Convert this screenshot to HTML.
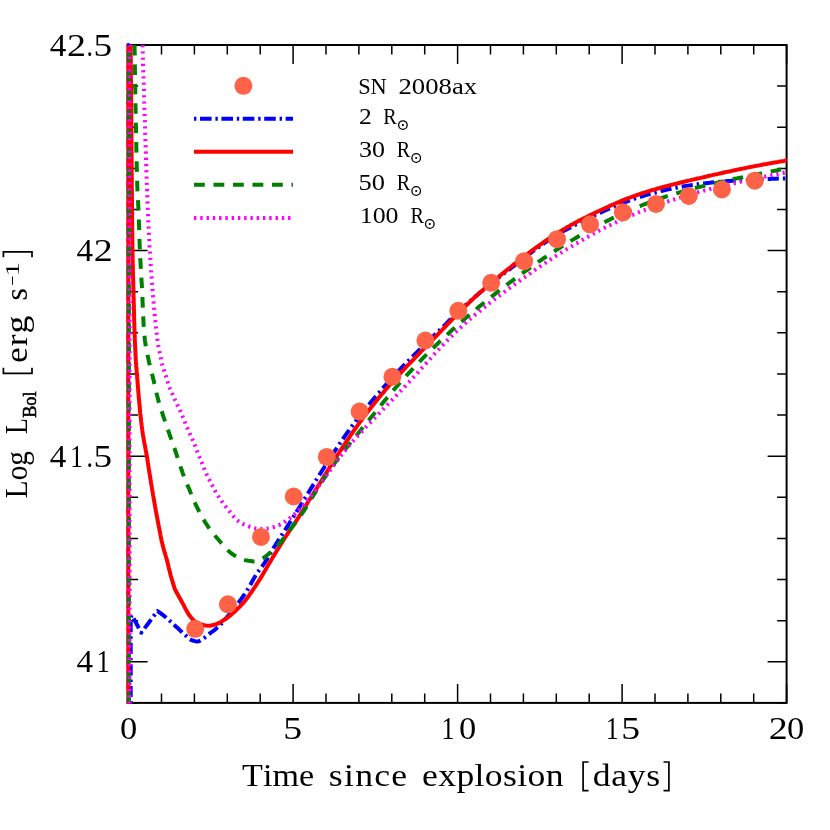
<!DOCTYPE html>
<html><head><meta charset="utf-8"><title>SN 2008ax light curve</title>
<style>html,body{margin:0;padding:0;background:#fff}svg{display:block;will-change:transform}text{font-family:"Liberation Serif",serif;fill:#000;font-kerning:none;font-variant-ligatures:none;white-space:pre}</style></head><body>
<svg width="830" height="830" viewBox="0 0 830 830">
<rect width="830" height="830" fill="#fff"/>
<defs><clipPath id="c"><rect x="125.6" y="44.8" width="661.3" height="658.9"/></clipPath></defs>
<g stroke="#000" fill="none" stroke-linecap="butt">
<rect x="128.6" y="45.0" width="658.0" height="657.9" stroke-width="2"/>
<path d="M128.6 702.9 v-19.0 M128.6 45.0 v19.0 M161.5 702.9 v-9.5 M161.5 45.0 v9.5 M194.4 702.9 v-9.5 M194.4 45.0 v9.5 M227.3 702.9 v-9.5 M227.3 45.0 v9.5 M260.2 702.9 v-9.5 M260.2 45.0 v9.5 M293.1 702.9 v-19.0 M293.1 45.0 v19.0 M326.0 702.9 v-9.5 M326.0 45.0 v9.5 M358.9 702.9 v-9.5 M358.9 45.0 v9.5 M391.8 702.9 v-9.5 M391.8 45.0 v9.5 M424.7 702.9 v-9.5 M424.7 45.0 v9.5 M457.6 702.9 v-19.0 M457.6 45.0 v19.0 M490.5 702.9 v-9.5 M490.5 45.0 v9.5 M523.4 702.9 v-9.5 M523.4 45.0 v9.5 M556.3 702.9 v-9.5 M556.3 45.0 v9.5 M589.2 702.9 v-9.5 M589.2 45.0 v9.5 M622.1 702.9 v-19.0 M622.1 45.0 v19.0 M655.0 702.9 v-9.5 M655.0 45.0 v9.5 M687.9 702.9 v-9.5 M687.9 45.0 v9.5 M720.8 702.9 v-9.5 M720.8 45.0 v9.5 M753.7 702.9 v-9.5 M753.7 45.0 v9.5 M786.6 702.9 v-19.0 M786.6 45.0 v19.0 M128.6 702.9 h9.5 M786.6 702.9 h-9.5 M128.6 661.8 h19.0 M786.6 661.8 h-19.0 M128.6 620.7 h9.5 M786.6 620.7 h-9.5 M128.6 579.5 h9.5 M786.6 579.5 h-9.5 M128.6 538.4 h9.5 M786.6 538.4 h-9.5 M128.6 497.3 h9.5 M786.6 497.3 h-9.5 M128.6 456.2 h19.0 M786.6 456.2 h-19.0 M128.6 415.1 h9.5 M786.6 415.1 h-9.5 M128.6 374.0 h9.5 M786.6 374.0 h-9.5 M128.6 332.8 h9.5 M786.6 332.8 h-9.5 M128.6 291.7 h9.5 M786.6 291.7 h-9.5 M128.6 250.6 h19.0 M786.6 250.6 h-19.0 M128.6 209.5 h9.5 M786.6 209.5 h-9.5 M128.6 168.4 h9.5 M786.6 168.4 h-9.5 M128.6 127.2 h9.5 M786.6 127.2 h-9.5 M128.6 86.1 h9.5 M786.6 86.1 h-9.5 M128.6 45.0 h19.0 M786.6 45.0 h-19.0" stroke-width="1.5"/>
</g>
<g fill="none" stroke-width="4" stroke-linejoin="round" clip-path="url(#c)">
<path d="M128.3 710 V40" stroke="#0000ff" stroke-width="3.4" stroke-dasharray="11.2 4 2.4 4"/>
<path d="M130.7 710.0 L130.7 617.0 L131.8 614.9 L141.3 632.7 L157.5 611.0 L159.1 612.2 L160.8 613.4 L162.4 614.6 L163.9 615.8 L165.5 617.0 L167.0 618.3 L168.6 619.6 L170.0 621.0 L171.5 622.3 L173.0 623.7 L174.5 625.1 L175.9 626.5 L177.4 627.8 L178.9 629.2 L180.3 630.6 L181.8 632.0 L183.2 633.3 L184.7 634.7 L186.2 636.0 L187.7 637.4 L189.3 638.8 L190.9 639.8 L192.8 640.5 L194.8 641.1 L196.8 641.5 L198.7 641.3 L200.5 640.5 L202.3 639.4 L204.0 638.3 L205.5 637.0 L207.1 635.7 L208.6 634.4 L210.2 633.2 L211.8 632.0 L213.4 630.8 L215.0 629.6 L216.6 628.3 L218.1 627.0 L219.5 625.6 L220.9 624.1 L222.2 622.7 L223.6 621.1 L224.9 619.6 L226.2 618.1 L227.5 616.5 L228.8 615.0 L230.0 613.5 L231.3 611.9 L232.5 610.3 L233.8 608.7 L235.0 607.2 L236.2 605.6 L237.5 604.0 L238.7 602.4 L239.9 600.8 L241.1 599.1 L242.3 597.5 L243.4 595.9 L244.6 594.3 L245.7 592.6 L246.8 590.9 L247.8 589.2 L248.8 587.5 L249.8 585.7 L250.8 584.0 L251.8 582.2 L252.7 580.4 L253.7 578.7 L254.8 577.0 L255.8 575.3 L256.9 573.6 L258.0 571.9 L259.2 570.3 L260.4 568.7 L261.6 567.0 L262.8 565.4 L263.9 563.8 L265.1 562.1 L266.1 560.5 L267.2 558.8 L268.2 557.0 L269.2 555.3 L270.2 553.6 L271.3 551.8 L272.3 550.1 L273.3 548.4 L274.4 546.7 L275.5 545.0 L276.5 543.3 L277.6 541.6 L278.7 539.9 L279.8 538.2 L280.9 536.5 L281.9 534.8 L283.0 533.2 L284.1 531.5 L285.2 529.8 L286.3 528.1 L287.4 526.4 L288.4 524.7 L289.5 523.0 L290.6 521.3 L291.7 519.6 L292.7 517.9 L293.8 516.2 L294.9 514.4 L296.0 512.7 L297.0 511.0 L298.1 509.3 L299.2 507.6 L300.2 505.9 L301.3 504.1 L302.4 502.4 L303.4 500.7 L304.5 499.0 L305.6 497.2 L306.6 495.5 L307.7 493.8 L308.8 492.1 L309.8 490.3 L310.9 488.6 L312.0 486.9 L313.0 485.2 L314.1 483.5 L315.1 481.8 L316.2 480.1 L317.2 478.4 L318.3 476.8 L319.3 475.1 L320.4 473.5 L321.4 471.8 L322.4 470.2 L323.5 468.6 L324.5 466.9 L325.6 465.3 L326.6 463.6 L327.7 462.0 L328.7 460.4 L329.8 458.7 L330.9 457.1 L331.9 455.4 L333.0 453.8 L334.1 452.1 L335.2 450.4 L336.3 448.8 L337.4 447.1 L338.5 445.4 L339.7 443.7 L340.8 442.1 L342.0 440.4 L343.1 438.7 L344.3 437.0 L345.4 435.4 L346.6 433.7 L347.8 432.0 L349.0 430.4 L350.1 428.7 L351.3 427.1 L352.5 425.4 L353.8 423.8 L355.0 422.2 L356.2 420.5 L357.5 418.9 L358.7 417.3 L360.0 415.7 L361.3 414.0 L362.5 412.4 L363.8 410.8 L365.1 409.2 L366.4 407.6 L367.7 406.0 L369.0 404.5 L370.3 402.9 L371.6 401.3 L372.9 399.8 L374.2 398.2 L375.5 396.7 L376.8 395.2 L378.1 393.7 L379.4 392.2 L380.7 390.6 L382.0 389.1 L383.3 387.6 L384.6 386.2 L385.9 384.7 L387.2 383.2 L388.5 381.7 L389.9 380.3 L391.2 378.8 L392.5 377.3 L393.8 375.9 L395.2 374.4 L396.5 373.0 L397.8 371.6 L399.2 370.1 L400.6 368.7 L401.9 367.3 L403.3 365.9 L404.6 364.5 L406.0 363.1 L407.4 361.7 L408.8 360.3 L410.2 358.9 L411.6 357.5 L413.0 356.1 L414.4 354.7 L415.8 353.3 L417.3 351.8 L418.7 350.4 L420.2 349.0 L421.6 347.6 L423.1 346.1 L424.6 344.7 L426.1 343.2 L427.6 341.8 L429.1 340.3 L430.6 338.9 L432.0 337.5 L433.5 336.0 L434.9 334.6 L436.4 333.2 L437.8 331.8 L439.3 330.4 L440.7 329.0 L442.1 327.6 L443.6 326.2 L445.0 324.8 L446.5 323.3 L447.9 321.9 L449.3 320.5 L450.8 319.1 L452.2 317.8 L453.6 316.4 L455.1 315.0 L456.5 313.6 L458.0 312.3 L459.4 310.9 L460.8 309.5 L462.3 308.2 L463.7 306.9 L465.2 305.5 L466.6 304.2 L468.1 302.9 L469.6 301.5 L471.1 300.2 L472.6 298.9 L474.1 297.6 L475.6 296.3 L477.1 295.0 L478.6 293.8 L480.1 292.5 L481.7 291.2 L483.2 289.9 L484.8 288.7 L486.3 287.4 L487.9 286.2 L489.4 284.9 L491.0 283.7 L492.6 282.4 L494.1 281.2 L495.7 279.9 L497.3 278.7 L498.9 277.5 L500.5 276.2 L502.1 275.0 L503.7 273.8 L505.3 272.5 L506.9 271.3 L508.5 270.0 L510.2 268.8 L511.8 267.5 L513.4 266.3 L515.1 265.0 L516.7 263.8 L518.3 262.5 L519.9 261.3 L521.5 260.0 L523.1 258.8 L524.7 257.5 L526.3 256.3 L527.9 255.1 L529.5 253.9 L531.1 252.6 L532.7 251.4 L534.3 250.3 L535.9 249.1 L537.5 247.9 L539.1 246.8 L540.7 245.6 L542.3 244.5 L543.9 243.3 L545.5 242.2 L547.2 241.1 L548.8 240.1 L550.5 239.0 L552.1 237.9 L553.8 236.9 L555.5 235.9 L557.2 234.9 L558.8 233.9 L560.6 232.9 L562.3 231.9 L564.0 230.9 L565.7 229.9 L567.5 229.0 L569.3 228.0 L571.1 227.1 L572.9 226.1 L574.7 225.2 L576.5 224.3 L578.3 223.3 L580.1 222.4 L581.9 221.5 L583.7 220.6 L585.6 219.7 L587.4 218.8 L589.2 217.9 L591.1 217.0 L592.9 216.1 L594.7 215.2 L596.6 214.4 L598.4 213.5 L600.3 212.6 L602.1 211.8 L603.9 211.0 L605.8 210.1 L607.6 209.3 L609.5 208.5 L611.3 207.7 L613.1 206.9 L615.0 206.2 L616.8 205.4 L618.6 204.7 L620.5 203.9 L622.3 203.2 L624.1 202.5 L626.0 201.8 L627.8 201.1 L629.7 200.4 L631.6 199.7 L633.5 199.1 L635.3 198.4 L637.2 197.8 L639.2 197.2 L641.1 196.6 L643.0 196.0 L644.9 195.4 L646.8 194.8 L648.8 194.3 L650.7 193.7 L652.6 193.2 L654.6 192.7 L656.5 192.2 L658.5 191.7 L660.4 191.2 L662.4 190.7 L664.4 190.3 L666.3 189.8 L668.3 189.4 L670.2 189.0 L672.2 188.6 L674.2 188.2 L676.1 187.8 L678.1 187.4 L680.1 187.0 L682.1 186.7 L684.0 186.3 L686.0 186.0 L688.0 185.7 L690.0 185.4 L692.0 185.1 L693.9 184.8 L695.9 184.5 L697.9 184.2 L699.9 184.0 L701.9 183.7 L703.9 183.5 L705.9 183.2 L707.9 183.0 L709.9 182.8 L711.9 182.5 L713.9 182.3 L715.9 182.1 L717.9 182.0 L719.9 181.8 L721.9 181.6 L723.9 181.4 L725.9 181.3 L727.9 181.1 L729.9 181.0 L731.9 180.8 L733.9 180.7 L735.9 180.5 L737.9 180.4 L739.9 180.3 L741.9 180.2 L743.9 180.1 L745.9 180.0 L747.9 179.8 L749.9 179.7 L751.9 179.6 L753.9 179.6 L755.9 179.5 L757.9 179.4 L759.9 179.3 L761.9 179.2 L763.9 179.1 L765.9 179.1 L767.9 179.0 L769.9 178.9 L772.0 178.8 L774.0 178.8 L776.0 178.7 L778.0 178.6 L780.0 178.6 L782.0 178.5 L784.0 178.4 L786.0 178.4 L788.0 178.3 L790.0 178.2" stroke="#0000ff" stroke-dasharray="11.2 4 2.4 4" stroke-dashoffset="8.7"/>
<path d="M128.3 710 V40" stroke="#ff0000"/>
<path d="M130.6 40.0 L130.6 42.0 L130.6 44.0 L130.7 46.0 L130.7 48.0 L130.7 50.1 L130.7 52.1 L130.7 54.1 L130.7 56.1 L130.8 58.1 L130.8 60.1 L130.8 62.1 L130.8 64.1 L130.8 66.1 L130.9 68.2 L130.9 70.2 L130.9 72.2 L130.9 74.2 L130.9 76.2 L130.9 78.2 L131.0 80.2 L131.0 82.2 L131.0 84.2 L131.0 86.3 L131.0 88.3 L131.0 90.3 L131.1 92.3 L131.1 94.3 L131.1 96.3 L131.1 98.3 L131.1 100.3 L131.1 102.3 L131.2 104.4 L131.2 106.4 L131.2 108.4 L131.2 110.4 L131.2 112.4 L131.3 114.4 L131.3 116.4 L131.3 118.4 L131.3 120.4 L131.3 122.5 L131.3 124.5 L131.4 126.5 L131.4 128.5 L131.4 130.5 L131.4 132.5 L131.4 134.5 L131.4 136.5 L131.4 138.5 L131.5 140.6 L131.5 142.6 L131.5 144.6 L131.5 146.6 L131.5 148.6 L131.5 150.6 L131.6 152.6 L131.6 154.6 L131.6 156.6 L131.6 158.7 L131.6 160.7 L131.6 162.7 L131.7 164.7 L131.7 166.7 L131.7 168.7 L131.7 170.7 L131.7 172.7 L131.7 174.7 L131.7 176.8 L131.8 178.8 L131.8 180.8 L131.8 182.8 L131.8 184.8 L131.8 186.8 L131.8 188.8 L131.9 190.8 L131.9 192.8 L131.9 194.8 L131.9 196.9 L131.9 198.9 L132.0 200.9 L132.0 202.9 L132.0 204.9 L132.0 206.9 L132.0 208.9 L132.1 210.9 L132.1 212.9 L132.1 215.0 L132.1 217.0 L132.1 219.0 L132.1 221.0 L132.2 223.0 L132.2 225.0 L132.2 227.0 L132.2 229.0 L132.2 231.0 L132.3 233.1 L132.3 235.1 L132.3 237.1 L132.3 239.1 L132.4 241.1 L132.4 243.1 L132.4 245.1 L132.4 247.1 L132.5 249.1 L132.5 251.2 L132.5 253.2 L132.6 255.2 L132.6 257.2 L132.6 259.2 L132.7 261.2 L132.7 263.2 L132.8 265.2 L132.8 267.2 L132.9 269.3 L132.9 271.3 L133.0 273.3 L133.0 275.3 L133.1 277.3 L133.1 279.3 L133.2 281.3 L133.3 283.3 L133.3 285.3 L133.4 287.3 L133.4 289.4 L133.5 291.4 L133.5 293.4 L133.6 295.4 L133.6 297.4 L133.7 299.4 L133.7 301.4 L133.8 303.4 L133.8 305.4 L133.9 307.5 L133.9 309.5 L134.0 311.5 L134.0 313.5 L134.1 315.5 L134.1 317.5 L134.2 319.5 L134.2 321.5 L134.3 323.5 L134.4 325.5 L134.4 327.6 L134.5 329.6 L134.6 331.6 L134.6 333.6 L134.7 335.6 L134.8 337.6 L134.8 339.6 L134.9 341.6 L135.0 343.6 L135.1 345.6 L135.2 347.7 L135.3 349.7 L135.4 351.7 L135.5 353.7 L135.6 355.7 L135.7 357.7 L135.8 359.7 L135.9 361.7 L136.1 363.7 L136.2 365.7 L136.4 367.7 L136.6 369.7 L136.7 371.7 L136.9 373.7 L137.1 375.7 L137.2 377.7 L137.4 379.8 L137.5 381.8 L137.7 383.8 L137.8 385.8 L138.0 387.8 L138.2 389.8 L138.3 391.8 L138.5 393.8 L138.7 395.8 L138.8 397.8 L139.0 399.8 L139.2 401.8 L139.4 403.8 L139.6 405.8 L139.8 407.8 L139.9 409.8 L140.1 411.8 L140.3 413.8 L140.6 415.8 L140.8 417.8 L141.0 419.8 L141.2 421.8 L141.5 423.8 L141.7 425.8 L142.0 427.8 L142.2 429.8 L142.5 431.8 L142.8 433.8 L143.1 435.8 L143.5 437.7 L143.8 439.7 L144.1 441.7 L144.5 443.7 L144.9 445.7 L145.3 447.6 L145.6 449.6 L146.0 451.6 L146.4 453.6 L146.7 455.5 L147.1 457.5 L147.4 459.5 L147.7 461.5 L148.0 463.5 L148.3 465.5 L148.6 467.5 L148.9 469.4 L149.2 471.4 L149.5 473.4 L149.9 475.4 L150.2 477.4 L150.5 479.4 L150.8 481.4 L151.1 483.3 L151.5 485.3 L151.8 487.3 L152.1 489.3 L152.5 491.3 L152.8 493.3 L153.1 495.3 L153.5 497.2 L153.8 499.2 L154.2 501.2 L154.5 503.2 L154.9 505.2 L155.2 507.1 L155.6 509.1 L155.9 511.1 L156.3 513.1 L156.7 515.1 L157.0 517.0 L157.4 519.0 L157.8 521.0 L158.1 523.0 L158.5 524.9 L158.9 526.9 L159.3 528.9 L159.7 530.9 L160.1 532.8 L160.4 534.8 L160.8 536.8 L161.2 538.8 L161.6 540.7 L162.1 542.7 L162.5 544.6 L163.0 546.6 L163.6 548.5 L164.1 550.5 L164.7 552.4 L165.3 554.3 L165.8 556.2 L166.4 558.2 L166.9 560.1 L167.4 562.1 L167.9 564.0 L168.4 566.0 L168.8 567.9 L169.3 569.9 L169.8 571.8 L170.3 573.8 L170.8 575.7 L171.4 577.7 L171.9 579.6 L172.5 581.5 L173.1 583.4 L173.7 585.4 L174.3 587.3 L174.9 589.2 L175.9 591.0 L176.8 592.7 L177.8 594.5 L178.7 596.2 L179.7 598.0 L180.7 599.8 L181.6 601.5 L182.6 603.3 L183.6 605.0 L184.5 606.8 L185.4 608.6 L186.4 610.4 L187.3 612.2 L188.4 613.9 L189.5 615.6 L190.7 617.1 L192.0 618.7 L193.4 620.1 L195.0 621.3 L196.6 622.4 L198.4 623.4 L200.3 624.3 L202.2 624.8 L204.1 625.3 L206.1 625.6 L208.1 625.8 L210.1 625.7 L212.1 625.3 L214.1 624.8 L216.0 624.2 L217.9 623.5 L219.7 622.6 L221.4 621.6 L223.1 620.5 L224.8 619.4 L226.5 618.3 L228.1 617.1 L229.7 615.9 L231.3 614.6 L232.8 613.3 L234.3 612.0 L235.7 610.6 L237.2 609.2 L238.6 607.8 L240.0 606.4 L241.4 604.9 L242.8 603.4 L244.1 601.9 L245.3 600.4 L246.6 598.8 L247.8 597.2 L249.0 595.6 L250.1 593.9 L251.3 592.3 L252.4 590.6 L253.5 589.0 L254.6 587.3 L255.8 585.6 L256.9 583.9 L257.9 582.3 L259.0 580.6 L260.1 578.9 L261.1 577.2 L262.2 575.4 L263.2 573.7 L264.2 572.0 L265.2 570.3 L266.2 568.5 L267.2 566.8 L268.2 565.0 L269.2 563.3 L270.3 561.6 L271.3 559.9 L272.3 558.1 L273.4 556.4 L274.4 554.7 L275.4 553.0 L276.5 551.3 L277.5 549.6 L278.6 547.9 L279.7 546.2 L280.7 544.5 L281.8 542.8 L282.9 541.1 L283.9 539.4 L285.0 537.7 L286.1 536.0 L287.2 534.3 L288.3 532.7 L289.4 531.0 L290.5 529.3 L291.7 527.7 L292.9 526.0 L294.1 524.3 L295.2 522.6 L296.3 520.8 L297.4 519.1 L298.5 517.4 L299.6 515.7 L300.6 514.0 L301.6 512.3 L302.7 510.7 L303.7 509.0 L304.7 507.4 L305.7 505.7 L306.7 504.1 L307.7 502.5 L308.7 500.8 L309.8 499.2 L310.9 497.5 L311.9 495.8 L313.0 494.1 L314.1 492.4 L315.2 490.6 L316.3 488.8 L317.4 487.1 L318.5 485.3 L319.7 483.5 L320.8 481.7 L321.9 479.9 L323.0 478.2 L324.1 476.4 L325.2 474.6 L326.3 472.9 L327.4 471.2 L328.4 469.5 L329.5 467.8 L330.5 466.1 L331.5 464.5 L332.6 462.9 L333.6 461.3 L334.6 459.7 L335.6 458.1 L336.6 456.5 L337.6 454.9 L338.7 453.3 L339.7 451.7 L340.8 450.1 L341.8 448.5 L342.9 446.8 L344.0 445.2 L345.1 443.5 L346.2 441.9 L347.3 440.2 L348.5 438.5 L349.6 436.9 L350.7 435.2 L351.9 433.5 L353.0 431.9 L354.2 430.2 L355.4 428.5 L356.6 426.9 L357.8 425.2 L358.9 423.6 L360.2 421.9 L361.4 420.2 L362.6 418.6 L363.8 416.9 L365.1 415.2 L366.4 413.6 L367.6 411.9 L368.9 410.3 L370.2 408.6 L371.4 407.0 L372.7 405.4 L374.0 403.8 L375.2 402.2 L376.5 400.7 L377.8 399.1 L379.0 397.6 L380.3 396.0 L381.6 394.5 L382.9 393.0 L384.1 391.5 L385.4 390.0 L386.7 388.5 L388.0 387.0 L389.3 385.5 L390.6 384.1 L391.9 382.6 L393.2 381.2 L394.5 379.7 L395.8 378.3 L397.1 376.8 L398.4 375.4 L399.7 374.0 L401.0 372.5 L402.4 371.1 L403.7 369.6 L405.1 368.2 L406.5 366.7 L407.9 365.2 L409.3 363.8 L410.7 362.3 L412.1 360.8 L413.6 359.3 L415.0 357.8 L416.5 356.3 L417.9 354.8 L419.3 353.4 L420.7 351.9 L422.2 350.4 L423.6 349.0 L425.0 347.5 L426.4 346.1 L427.8 344.6 L429.2 343.2 L430.6 341.8 L432.0 340.3 L433.4 338.9 L434.8 337.4 L436.2 336.0 L437.6 334.6 L439.0 333.1 L440.4 331.7 L441.7 330.3 L443.1 328.9 L444.5 327.5 L445.8 326.1 L447.2 324.6 L448.6 323.2 L449.9 321.8 L451.3 320.3 L452.7 318.9 L454.1 317.5 L455.5 316.0 L456.9 314.6 L458.3 313.2 L459.8 311.7 L461.2 310.3 L462.6 308.9 L464.0 307.5 L465.5 306.1 L466.9 304.7 L468.4 303.3 L469.8 301.9 L471.3 300.5 L472.7 299.2 L474.2 297.8 L475.6 296.5 L477.1 295.2 L478.6 293.8 L480.1 292.5 L481.6 291.2 L483.1 289.9 L484.6 288.6 L486.1 287.3 L487.6 286.0 L489.1 284.7 L490.6 283.4 L492.2 282.1 L493.7 280.8 L495.3 279.6 L496.8 278.3 L498.4 277.0 L499.9 275.7 L501.5 274.4 L503.1 273.2 L504.7 271.9 L506.3 270.6 L507.9 269.3 L509.5 268.0 L511.1 266.7 L512.7 265.4 L514.3 264.1 L515.9 262.9 L517.5 261.6 L519.1 260.4 L520.7 259.1 L522.3 257.9 L523.9 256.7 L525.5 255.5 L527.1 254.3 L528.7 253.1 L530.3 251.9 L531.9 250.7 L533.4 249.5 L535.0 248.4 L536.6 247.2 L538.2 246.1 L539.8 244.9 L541.4 243.8 L543.0 242.7 L544.7 241.5 L546.3 240.4 L547.9 239.3 L549.6 238.2 L551.3 237.1 L552.9 236.0 L554.6 234.9 L556.3 233.8 L558.0 232.8 L559.7 231.7 L561.4 230.7 L563.1 229.6 L564.8 228.6 L566.5 227.6 L568.3 226.6 L570.0 225.6 L571.8 224.6 L573.6 223.7 L575.3 222.7 L577.1 221.8 L578.9 220.8 L580.7 219.9 L582.5 219.0 L584.3 218.1 L586.1 217.2 L587.9 216.3 L589.7 215.4 L591.6 214.5 L593.4 213.6 L595.2 212.7 L597.0 211.9 L598.9 211.0 L600.7 210.2 L602.5 209.3 L604.4 208.5 L606.2 207.6 L608.1 206.8 L609.9 205.9 L611.7 205.1 L613.5 204.3 L615.3 203.5 L617.2 202.7 L619.0 202.0 L620.8 201.2 L622.6 200.4 L624.4 199.7 L626.3 199.0 L628.2 198.2 L630.0 197.5 L631.9 196.8 L633.8 196.1 L635.7 195.5 L637.6 194.8 L639.5 194.1 L641.4 193.5 L643.3 192.9 L645.2 192.3 L647.1 191.7 L649.0 191.1 L650.9 190.5 L652.8 189.9 L654.8 189.4 L656.7 188.8 L658.6 188.3 L660.6 187.7 L662.5 187.2 L664.4 186.7 L666.4 186.1 L668.3 185.6 L670.3 185.1 L672.3 184.6 L674.2 184.1 L676.2 183.7 L678.1 183.2 L680.1 182.7 L682.0 182.2 L684.0 181.7 L685.9 181.3 L687.9 180.8 L689.8 180.4 L691.8 179.9 L693.7 179.4 L695.7 179.0 L697.6 178.5 L699.6 178.1 L701.5 177.6 L703.5 177.2 L705.4 176.7 L707.4 176.3 L709.3 175.8 L711.3 175.4 L713.2 174.9 L715.2 174.5 L717.1 174.1 L719.1 173.6 L721.1 173.2 L723.0 172.8 L725.0 172.3 L726.9 171.9 L728.9 171.5 L730.9 171.1 L732.8 170.6 L734.8 170.2 L736.7 169.8 L738.7 169.4 L740.7 169.0 L742.6 168.6 L744.6 168.2 L746.6 167.8 L748.5 167.4 L750.5 167.0 L752.5 166.6 L754.5 166.2 L756.4 165.8 L758.4 165.5 L760.4 165.1 L762.3 164.7 L764.3 164.3 L766.3 164.0 L768.3 163.6 L770.2 163.3 L772.2 162.9 L774.2 162.6 L776.2 162.2 L778.1 161.9 L780.1 161.5 L782.1 161.2 L784.1 160.9 L786.0 160.5 L788.0 160.2 L790.0 159.9" stroke="#ff0000"/>
<path d="M128.9 710 V40" stroke="#008000" stroke-dasharray="10.6 8.8" stroke-dashoffset="11.8"/>
<path d="M134.5 40.0 L134.5 42.0 L134.6 44.0 L134.6 46.0 L134.6 48.0 L134.6 50.0 L134.7 52.0 L134.7 54.0 L134.7 56.0 L134.7 58.0 L134.8 60.0 L134.8 62.0 L134.8 64.0 L134.9 66.0 L134.9 68.1 L134.9 70.1 L135.0 72.1 L135.0 74.1 L135.0 76.1 L135.1 78.1 L135.1 80.1 L135.1 82.1 L135.2 84.1 L135.2 86.1 L135.2 88.1 L135.3 90.1 L135.3 92.1 L135.3 94.1 L135.4 96.1 L135.4 98.1 L135.4 100.1 L135.5 102.1 L135.5 104.1 L135.5 106.1 L135.6 108.1 L135.6 110.1 L135.7 112.1 L135.7 114.1 L135.7 116.1 L135.8 118.1 L135.8 120.1 L135.8 122.1 L135.9 124.1 L135.9 126.2 L136.0 128.2 L136.0 130.2 L136.0 132.2 L136.1 134.2 L136.1 136.2 L136.1 138.2 L136.2 140.2 L136.2 142.2 L136.3 144.2 L136.3 146.2 L136.3 148.2 L136.4 150.2 L136.4 152.2 L136.5 154.2 L136.5 156.2 L136.5 158.2 L136.6 160.2 L136.6 162.2 L136.7 164.2 L136.7 166.2 L136.8 168.2 L136.8 170.2 L136.9 172.2 L136.9 174.2 L137.0 176.2 L137.0 178.2 L137.1 180.2 L137.2 182.2 L137.2 184.2 L137.3 186.2 L137.4 188.3 L137.4 190.3 L137.5 192.3 L137.7 194.3 L137.8 196.3 L137.9 198.3 L138.0 200.3 L138.1 202.3 L138.2 204.3 L138.3 206.3 L138.4 208.3 L138.5 210.3 L138.6 212.3 L138.7 214.3 L138.7 216.3 L138.8 218.3 L138.9 220.3 L138.9 222.3 L139.0 224.3 L139.1 226.3 L139.1 228.3 L139.2 230.3 L139.3 232.3 L139.3 234.3 L139.4 236.3 L139.4 238.3 L139.5 240.3 L139.6 242.3 L139.6 244.3 L139.7 246.3 L139.8 248.3 L139.9 250.3 L140.0 252.3 L140.0 254.3 L140.1 256.3 L140.2 258.3 L140.4 260.3 L140.5 262.3 L140.6 264.3 L140.7 266.3 L140.8 268.3 L140.9 270.3 L141.0 272.3 L141.2 274.3 L141.3 276.3 L141.4 278.3 L141.5 280.3 L141.6 282.3 L141.8 284.3 L141.9 286.3 L142.0 288.3 L142.1 290.3 L142.2 292.3 L142.3 294.3 L142.4 296.3 L142.5 298.3 L142.5 300.3 L142.6 302.3 L142.7 304.3 L142.8 306.3 L142.9 308.4 L142.9 310.4 L143.0 312.4 L143.1 314.4 L143.2 316.4 L143.3 318.4 L143.4 320.4 L143.5 322.4 L143.6 324.4 L143.7 326.4 L143.8 328.4 L144.0 330.4 L144.1 332.4 L144.3 334.4 L144.5 336.4 L144.7 338.3 L144.9 340.3 L145.2 342.3 L145.5 344.3 L145.8 346.3 L146.1 348.2 L146.5 350.2 L146.9 352.2 L147.3 354.2 L147.7 356.1 L148.2 358.1 L148.6 360.0 L149.0 362.0 L149.5 363.9 L150.0 365.9 L150.4 367.8 L150.9 369.8 L151.4 371.7 L151.9 373.6 L152.4 375.6 L152.9 377.5 L153.4 379.5 L153.9 381.4 L154.3 383.4 L154.8 385.3 L155.2 387.3 L155.7 389.3 L156.1 391.2 L156.5 393.2 L157.0 395.1 L157.5 397.1 L158.0 399.0 L158.5 400.9 L159.1 402.8 L159.6 404.8 L160.2 406.7 L160.8 408.6 L161.4 410.5 L162.1 412.4 L162.7 414.3 L163.3 416.2 L163.9 418.1 L164.6 420.0 L165.2 421.9 L165.9 423.8 L166.5 425.7 L167.2 427.6 L167.9 429.5 L168.5 431.4 L169.2 433.3 L169.8 435.2 L170.5 437.1 L171.2 438.9 L171.8 440.8 L172.5 442.7 L173.1 444.6 L173.8 446.5 L174.5 448.4 L175.1 450.3 L175.8 452.2 L176.4 454.1 L177.0 456.0 L177.7 457.9 L178.3 459.8 L178.9 461.7 L179.5 463.6 L180.1 465.5 L180.7 467.4 L181.4 469.3 L182.1 471.2 L182.7 473.1 L183.4 475.0 L184.2 476.9 L184.9 478.7 L185.6 480.6 L186.4 482.4 L187.1 484.3 L187.9 486.1 L188.7 488.0 L189.5 489.8 L190.2 491.7 L191.0 493.5 L191.8 495.4 L192.5 497.3 L193.3 499.1 L194.1 500.9 L194.9 502.8 L195.7 504.6 L196.6 506.4 L197.5 508.2 L198.4 510.0 L199.3 511.8 L200.2 513.6 L201.2 515.3 L202.1 517.1 L203.1 518.8 L204.2 520.6 L205.2 522.3 L206.3 524.0 L207.4 525.6 L208.5 527.3 L209.7 528.9 L210.9 530.5 L212.1 532.1 L213.3 533.7 L214.6 535.2 L215.9 536.8 L217.2 538.3 L218.5 539.8 L219.8 541.3 L221.1 542.8 L222.5 544.3 L223.8 545.9 L225.2 547.4 L226.5 548.9 L228.0 550.4 L229.4 551.7 L230.9 553.0 L232.5 554.1 L234.1 555.2 L235.9 556.3 L237.7 557.3 L239.5 558.2 L241.3 558.9 L243.2 559.6 L245.1 560.1 L247.1 560.5 L249.1 560.9 L251.1 561.1 L253.1 561.4 L255.1 561.5 L257.0 561.2 L258.9 560.4 L260.7 559.5 L262.5 558.5 L264.2 557.5 L265.8 556.3 L267.4 555.0 L268.9 553.7 L270.4 552.4 L271.9 551.0 L273.4 549.7 L274.8 548.2 L276.2 546.8 L277.6 545.3 L279.0 543.9 L280.3 542.4 L281.6 540.9 L282.9 539.3 L284.1 537.8 L285.3 536.2 L286.5 534.6 L287.7 533.0 L288.8 531.3 L290.0 529.7 L291.1 528.2 L292.3 526.6 L293.5 525.0 L294.8 523.4 L296.0 521.8 L297.3 520.1 L298.5 518.5 L299.8 516.8 L301.0 515.0 L302.2 513.3 L303.4 511.6 L304.5 509.8 L305.6 508.1 L306.7 506.3 L307.8 504.6 L308.8 502.9 L309.8 501.2 L310.9 499.5 L311.9 497.8 L312.9 496.2 L313.9 494.5 L314.9 492.9 L315.9 491.3 L316.9 489.7 L317.9 488.0 L318.9 486.4 L320.0 484.8 L321.0 483.2 L322.0 481.5 L323.1 479.9 L324.2 478.2 L325.3 476.6 L326.4 474.9 L327.5 473.2 L328.7 471.5 L329.8 469.8 L331.0 468.2 L332.2 466.5 L333.4 464.8 L334.6 463.2 L335.8 461.5 L337.0 459.9 L338.2 458.3 L339.5 456.6 L340.7 455.0 L341.9 453.4 L343.2 451.9 L344.4 450.3 L345.6 448.7 L346.9 447.2 L348.1 445.6 L349.4 444.1 L350.6 442.6 L351.8 441.0 L353.1 439.5 L354.4 437.9 L355.6 436.4 L356.9 434.8 L358.2 433.3 L359.4 431.8 L360.7 430.2 L362.0 428.6 L363.2 427.1 L364.5 425.5 L365.8 423.9 L367.1 422.3 L368.4 420.8 L369.6 419.2 L370.9 417.6 L372.2 416.0 L373.5 414.4 L374.7 412.9 L376.0 411.3 L377.2 409.7 L378.5 408.2 L379.7 406.7 L381.0 405.1 L382.3 403.6 L383.5 402.1 L384.8 400.5 L386.1 399.0 L387.3 397.5 L388.6 396.0 L389.9 394.4 L391.2 392.9 L392.4 391.4 L393.7 389.9 L395.0 388.4 L396.3 387.0 L397.6 385.5 L398.9 384.0 L400.2 382.5 L401.5 381.0 L402.9 379.6 L404.2 378.1 L405.5 376.7 L406.8 375.2 L408.2 373.7 L409.5 372.3 L410.9 370.8 L412.3 369.3 L413.7 367.8 L415.1 366.3 L416.5 364.8 L417.9 363.3 L419.4 361.8 L420.8 360.4 L422.2 358.9 L423.7 357.4 L425.1 356.0 L426.5 354.5 L427.9 353.1 L429.4 351.7 L430.8 350.3 L432.2 348.9 L433.7 347.5 L435.1 346.1 L436.5 344.7 L438.0 343.3 L439.4 341.9 L440.9 340.5 L442.3 339.1 L443.8 337.8 L445.3 336.4 L446.7 335.0 L448.2 333.7 L449.7 332.3 L451.1 331.0 L452.6 329.6 L454.1 328.3 L455.6 326.9 L457.1 325.6 L458.6 324.3 L460.1 322.9 L461.7 321.6 L463.2 320.3 L464.7 318.9 L466.2 317.6 L467.7 316.3 L469.2 315.1 L470.7 313.8 L472.2 312.5 L473.7 311.2 L475.2 310.0 L476.7 308.7 L478.2 307.5 L479.7 306.2 L481.3 305.0 L482.8 303.7 L484.4 302.4 L485.9 301.2 L487.5 299.9 L489.1 298.6 L490.7 297.4 L492.2 296.1 L493.8 294.9 L495.4 293.6 L497.0 292.4 L498.5 291.2 L500.1 290.0 L501.7 288.7 L503.2 287.5 L504.8 286.3 L506.4 285.1 L508.0 283.9 L509.6 282.7 L511.2 281.5 L512.8 280.3 L514.4 279.1 L516.0 277.9 L517.7 276.7 L519.3 275.4 L521.0 274.2 L522.6 273.0 L524.3 271.8 L526.0 270.6 L527.6 269.5 L529.3 268.3 L530.9 267.1 L532.6 266.0 L534.2 264.8 L535.8 263.7 L537.5 262.5 L539.1 261.4 L540.8 260.3 L542.4 259.2 L544.1 258.0 L545.8 256.9 L547.4 255.8 L549.1 254.7 L550.8 253.6 L552.4 252.5 L554.1 251.4 L555.8 250.3 L557.5 249.3 L559.1 248.2 L560.8 247.1 L562.5 246.1 L564.2 245.0 L565.9 244.0 L567.5 243.0 L569.2 241.9 L570.9 240.9 L572.6 239.9 L574.3 238.9 L576.1 237.8 L577.8 236.8 L579.5 235.8 L581.2 234.8 L583.0 233.8 L584.7 232.8 L586.5 231.8 L588.2 230.9 L590.0 229.9 L591.7 228.9 L593.5 228.0 L595.3 227.0 L597.0 226.1 L598.8 225.1 L600.6 224.2 L602.4 223.3 L604.1 222.4 L605.9 221.5 L607.7 220.6 L609.5 219.7 L611.3 218.8 L613.1 217.9 L614.9 217.1 L616.7 216.2 L618.5 215.4 L620.3 214.5 L622.1 213.7 L623.9 212.9 L625.7 212.0 L627.6 211.2 L629.4 210.4 L631.2 209.6 L633.1 208.8 L635.0 208.1 L636.8 207.3 L638.7 206.5 L640.6 205.8 L642.5 205.0 L644.3 204.3 L646.2 203.6 L648.1 202.8 L650.0 202.1 L651.9 201.4 L653.8 200.8 L655.7 200.1 L657.6 199.4 L659.5 198.8 L661.4 198.1 L663.3 197.5 L665.2 196.8 L667.1 196.2 L669.0 195.6 L670.9 195.0 L672.9 194.4 L674.8 193.8 L676.7 193.2 L678.6 192.7 L680.6 192.1 L682.5 191.5 L684.4 191.0 L686.4 190.4 L688.3 189.9 L690.3 189.4 L692.2 188.9 L694.2 188.3 L696.1 187.8 L698.1 187.3 L700.0 186.8 L701.9 186.4 L703.9 185.9 L705.8 185.4 L707.7 184.9 L709.7 184.5 L711.6 184.0 L713.5 183.6 L715.4 183.1 L717.4 182.7 L719.3 182.2 L721.2 181.8 L723.2 181.4 L725.1 180.9 L727.1 180.5 L729.0 180.1 L731.0 179.7 L733.0 179.3 L734.9 178.8 L736.9 178.4 L738.8 178.0 L740.8 177.6 L742.8 177.2 L744.7 176.8 L746.7 176.4 L748.6 176.0 L750.6 175.6 L752.5 175.2 L754.5 174.8 L756.5 174.4 L758.4 174.0 L760.4 173.6 L762.3 173.2 L764.3 172.9 L766.3 172.5 L768.3 172.1 L770.2 171.7 L772.2 171.3 L774.2 170.9 L776.2 170.5 L778.1 170.1 L780.1 169.6 L782.1 169.2 L784.1 168.8 L786.0 168.4 L788.0 168.0 L790.0 167.6" stroke="#008000" stroke-dasharray="10.6 8.8" stroke-dashoffset="-5"/>
<path d="M129.6 710 V40" stroke="#ff00ff" stroke-dasharray="2.2 4.06" stroke-dashoffset="0"/>
<path d="M142.3 40.0 L142.4 42.0 L142.4 44.0 L142.5 46.0 L142.5 48.0 L142.6 50.0 L142.7 52.0 L142.7 54.0 L142.8 56.0 L142.9 58.0 L142.9 60.0 L143.0 62.0 L143.0 64.1 L143.1 66.1 L143.2 68.1 L143.2 70.1 L143.3 72.1 L143.4 74.1 L143.4 76.1 L143.5 78.1 L143.5 80.1 L143.6 82.1 L143.7 84.1 L143.7 86.1 L143.8 88.1 L143.9 90.1 L143.9 92.1 L144.0 94.1 L144.0 96.1 L144.1 98.1 L144.2 100.1 L144.2 102.1 L144.3 104.1 L144.4 106.1 L144.4 108.1 L144.5 110.2 L144.6 112.2 L144.6 114.2 L144.7 116.2 L144.7 118.2 L144.8 120.2 L144.9 122.2 L144.9 124.2 L145.0 126.2 L145.1 128.2 L145.1 130.2 L145.2 132.2 L145.2 134.2 L145.3 136.2 L145.4 138.2 L145.4 140.2 L145.5 142.2 L145.5 144.2 L145.6 146.2 L145.7 148.2 L145.7 150.2 L145.8 152.2 L145.8 154.2 L145.9 156.3 L146.0 158.3 L146.0 160.3 L146.1 162.3 L146.2 164.3 L146.2 166.3 L146.3 168.3 L146.4 170.3 L146.4 172.3 L146.5 174.3 L146.6 176.3 L146.6 178.3 L146.7 180.3 L146.8 182.3 L146.8 184.3 L146.9 186.3 L147.0 188.3 L147.1 190.3 L147.1 192.3 L147.2 194.3 L147.3 196.3 L147.4 198.3 L147.4 200.3 L147.5 202.3 L147.6 204.3 L147.7 206.3 L147.8 208.4 L147.9 210.4 L148.0 212.4 L148.0 214.4 L148.1 216.4 L148.2 218.4 L148.3 220.4 L148.4 222.4 L148.5 224.4 L148.6 226.4 L148.7 228.4 L148.8 230.4 L148.9 232.4 L149.0 234.4 L149.1 236.4 L149.2 238.4 L149.3 240.4 L149.4 242.4 L149.5 244.4 L149.6 246.4 L149.8 248.4 L149.9 250.4 L150.0 252.4 L150.1 254.4 L150.2 256.4 L150.3 258.4 L150.5 260.4 L150.6 262.4 L150.7 264.4 L150.9 266.4 L151.0 268.4 L151.1 270.4 L151.3 272.4 L151.4 274.4 L151.6 276.4 L151.7 278.4 L151.9 280.4 L152.0 282.4 L152.2 284.4 L152.3 286.4 L152.5 288.4 L152.6 290.4 L152.8 292.4 L153.0 294.4 L153.1 296.4 L153.3 298.4 L153.4 300.4 L153.6 302.4 L153.8 304.4 L154.0 306.4 L154.1 308.4 L154.3 310.4 L154.5 312.4 L154.7 314.4 L154.9 316.4 L155.1 318.4 L155.3 320.4 L155.5 322.4 L155.7 324.4 L155.9 326.4 L156.1 328.4 L156.3 330.4 L156.5 332.4 L156.8 334.3 L157.0 336.3 L157.3 338.3 L157.5 340.3 L157.8 342.3 L158.1 344.3 L158.4 346.3 L158.8 348.2 L159.2 350.2 L159.6 352.2 L160.0 354.1 L160.4 356.1 L160.8 358.1 L161.1 360.0 L161.5 362.0 L162.0 364.0 L162.5 365.9 L163.1 367.8 L163.7 369.7 L164.3 371.6 L165.0 373.5 L165.7 375.4 L166.3 377.3 L166.9 379.2 L167.5 381.1 L168.0 383.1 L168.6 385.0 L169.3 386.9 L170.0 388.7 L170.8 390.6 L171.7 392.4 L172.5 394.2 L173.3 396.1 L174.1 397.9 L174.9 399.7 L175.8 401.5 L176.6 403.3 L177.5 405.2 L178.4 407.0 L179.3 408.8 L180.1 410.6 L180.9 412.4 L181.7 414.3 L182.5 416.1 L183.2 418.0 L184.0 419.8 L184.7 421.7 L185.5 423.6 L186.2 425.4 L187.0 427.3 L187.8 429.1 L188.5 431.0 L189.3 432.8 L190.2 434.6 L191.1 436.4 L191.9 438.2 L192.8 440.1 L193.5 441.9 L194.3 443.8 L195.0 445.6 L195.8 447.5 L196.5 449.4 L197.2 451.2 L198.0 453.1 L198.7 455.0 L199.4 456.8 L200.2 458.7 L200.9 460.6 L201.7 462.4 L202.4 464.3 L203.2 466.1 L203.9 468.0 L204.7 469.8 L205.5 471.7 L206.3 473.5 L207.1 475.3 L208.0 477.1 L208.9 478.9 L209.8 480.7 L210.7 482.5 L211.6 484.3 L212.6 486.1 L213.5 487.8 L214.5 489.6 L215.4 491.4 L216.4 493.1 L217.5 494.8 L218.5 496.5 L219.6 498.2 L220.8 499.9 L221.9 501.5 L223.1 503.1 L224.3 504.7 L225.5 506.3 L226.8 507.9 L228.0 509.5 L229.3 511.0 L230.5 512.6 L231.8 514.2 L233.0 515.8 L234.3 517.3 L235.7 518.8 L237.1 520.2 L238.7 521.4 L240.4 522.5 L242.1 523.5 L243.9 524.4 L245.7 525.3 L247.6 526.0 L249.4 526.7 L251.3 527.4 L253.3 528.0 L255.2 528.4 L257.2 528.7 L259.2 529.0 L261.2 529.0 L263.2 528.9 L265.2 528.8 L267.2 528.6 L269.2 528.3 L271.1 527.8 L273.1 527.3 L275.0 526.7 L276.9 526.0 L278.7 525.3 L280.5 524.4 L282.3 523.4 L284.0 522.3 L285.7 521.2 L287.3 520.1 L288.9 518.9 L290.5 517.6 L292.0 516.4 L293.6 515.1 L295.1 513.7 L296.6 512.4 L298.1 511.0 L299.6 509.5 L301.0 508.0 L302.4 506.5 L303.8 505.0 L305.1 503.5 L306.4 501.9 L307.7 500.3 L309.0 498.8 L310.3 497.2 L311.5 495.6 L312.7 494.0 L313.9 492.4 L315.1 490.8 L316.3 489.2 L317.5 487.7 L318.6 486.1 L319.8 484.5 L320.9 483.0 L322.0 481.5 L323.1 480.0 L324.1 478.6 L325.2 477.1 L326.3 475.6 L327.4 474.1 L328.5 472.5 L329.7 470.9 L330.9 469.2 L332.1 467.5 L333.4 465.8 L334.6 464.1 L335.9 462.4 L337.2 460.7 L338.5 459.0 L339.7 457.3 L341.0 455.6 L342.3 454.0 L343.6 452.4 L344.9 450.8 L346.2 449.2 L347.5 447.6 L348.8 446.1 L350.1 444.5 L351.4 443.0 L352.7 441.5 L354.0 440.0 L355.3 438.5 L356.7 437.1 L358.0 435.6 L359.3 434.2 L360.6 432.7 L362.0 431.3 L363.3 429.9 L364.7 428.4 L366.0 427.0 L367.4 425.6 L368.8 424.1 L370.2 422.7 L371.6 421.2 L373.0 419.8 L374.4 418.3 L375.8 416.8 L377.2 415.4 L378.6 413.9 L380.0 412.4 L381.4 411.0 L382.8 409.5 L384.2 408.1 L385.6 406.7 L387.0 405.3 L388.3 403.8 L389.7 402.4 L391.1 401.0 L392.4 399.6 L393.8 398.2 L395.2 396.8 L396.5 395.3 L397.9 393.9 L399.3 392.5 L400.6 391.0 L402.0 389.6 L403.4 388.1 L404.7 386.7 L406.1 385.2 L407.5 383.7 L408.9 382.3 L410.2 380.8 L411.6 379.3 L413.0 377.8 L414.4 376.3 L415.7 374.8 L417.1 373.3 L418.5 371.8 L419.8 370.3 L421.2 368.8 L422.5 367.3 L423.9 365.8 L425.2 364.3 L426.6 362.8 L428.0 361.3 L429.3 359.8 L430.7 358.3 L432.0 356.7 L433.4 355.2 L434.8 353.7 L436.2 352.2 L437.6 350.7 L439.0 349.2 L440.4 347.7 L441.8 346.2 L443.2 344.7 L444.6 343.2 L445.9 341.8 L447.3 340.4 L448.7 339.0 L450.1 337.6 L451.4 336.3 L452.8 334.9 L454.2 333.6 L455.6 332.2 L457.0 330.9 L458.5 329.5 L459.9 328.2 L461.4 326.8 L462.8 325.5 L464.3 324.2 L465.8 322.9 L467.3 321.5 L468.8 320.2 L470.3 318.9 L471.8 317.6 L473.3 316.3 L474.8 315.0 L476.4 313.8 L477.9 312.5 L479.5 311.2 L481.0 309.9 L482.6 308.7 L484.2 307.4 L485.7 306.2 L487.3 304.9 L488.9 303.7 L490.5 302.4 L492.1 301.2 L493.7 300.0 L495.3 298.8 L496.9 297.5 L498.5 296.3 L500.1 295.1 L501.8 293.9 L503.4 292.7 L505.0 291.5 L506.6 290.3 L508.2 289.1 L509.8 287.9 L511.4 286.7 L513.1 285.5 L514.7 284.3 L516.3 283.1 L517.9 282.0 L519.6 280.8 L521.2 279.6 L522.8 278.5 L524.5 277.3 L526.1 276.1 L527.7 275.0 L529.3 273.9 L530.9 272.8 L532.5 271.6 L534.1 270.5 L535.8 269.4 L537.4 268.3 L539.1 267.1 L540.8 266.0 L542.5 264.8 L544.2 263.7 L545.9 262.6 L547.6 261.4 L549.3 260.3 L551.0 259.2 L552.7 258.1 L554.5 256.9 L556.2 255.8 L557.9 254.8 L559.6 253.7 L561.3 252.6 L563.0 251.5 L564.7 250.5 L566.4 249.4 L568.1 248.4 L569.8 247.3 L571.6 246.3 L573.3 245.2 L575.0 244.2 L576.8 243.2 L578.5 242.1 L580.2 241.1 L581.9 240.2 L583.6 239.2 L585.3 238.2 L587.0 237.3 L588.8 236.3 L590.5 235.3 L592.2 234.4 L594.0 233.4 L595.7 232.5 L597.5 231.6 L599.3 230.6 L601.0 229.7 L602.8 228.8 L604.7 227.8 L606.5 226.9 L608.3 226.0 L610.1 225.1 L611.9 224.2 L613.6 223.4 L615.4 222.6 L617.2 221.7 L618.9 220.9 L620.7 220.1 L622.5 219.2 L624.4 218.4 L626.2 217.6 L628.0 216.8 L629.8 216.0 L631.6 215.2 L633.5 214.5 L635.3 213.7 L637.2 212.9 L639.1 212.1 L641.0 211.4 L642.8 210.6 L644.7 209.9 L646.6 209.2 L648.5 208.4 L650.3 207.7 L652.2 207.0 L654.1 206.3 L656.0 205.6 L657.8 205.0 L659.7 204.3 L661.6 203.6 L663.5 203.0 L665.4 202.3 L667.3 201.7 L669.2 201.0 L671.1 200.4 L673.0 199.8 L674.9 199.2 L676.9 198.5 L678.8 197.9 L680.7 197.3 L682.7 196.7 L684.6 196.1 L686.6 195.6 L688.5 195.0 L690.4 194.4 L692.4 193.9 L694.3 193.3 L696.3 192.8 L698.2 192.2 L700.1 191.7 L702.0 191.2 L704.0 190.6 L705.9 190.1 L707.8 189.6 L709.7 189.1 L711.6 188.6 L713.6 188.1 L715.5 187.6 L717.5 187.1 L719.4 186.7 L721.4 186.2 L723.4 185.7 L725.3 185.2 L727.3 184.8 L729.3 184.3 L731.2 183.9 L733.2 183.4 L735.1 183.0 L737.1 182.5 L739.0 182.1 L741.0 181.6 L742.9 181.2 L744.9 180.8 L746.8 180.4 L748.8 179.9 L750.8 179.5 L752.7 179.1 L754.7 178.7 L756.6 178.3 L758.6 177.9 L760.5 177.5 L762.5 177.1 L764.4 176.7 L766.4 176.3 L768.4 175.9 L770.3 175.5 L772.3 175.1 L774.3 174.7 L776.2 174.3 L778.2 173.9 L780.2 173.5 L782.1 173.1 L784.1 172.7 L786.1 172.3 L788.0 172.0 L790.0 171.6" stroke="#ff00ff" stroke-dasharray="2.2 4.06" stroke-dashoffset="-5.1"/>
</g>
<ellipse cx="128.3" cy="44.3" rx="1.7" ry="1.2" fill="#0000ff"/>
<g fill="#ff6347">
<circle cx="195.2" cy="628.8" r="9"/>
<circle cx="227.9" cy="604.3" r="9"/>
<circle cx="261.0" cy="536.9" r="9"/>
<circle cx="293.7" cy="496.5" r="9"/>
<circle cx="326.8" cy="456.9" r="9"/>
<circle cx="359.6" cy="411.6" r="9"/>
<circle cx="392.4" cy="376.8" r="9"/>
<circle cx="425.4" cy="340.5" r="9"/>
<circle cx="458.3" cy="310.8" r="9"/>
<circle cx="491.2" cy="282.8" r="9"/>
<circle cx="524.1" cy="261.2" r="9"/>
<circle cx="557.0" cy="239.2" r="9"/>
<circle cx="590.0" cy="224.3" r="9"/>
<circle cx="622.9" cy="212.3" r="9"/>
<circle cx="656.0" cy="203.9" r="9"/>
<circle cx="688.8" cy="196.0" r="9"/>
<circle cx="721.9" cy="189.5" r="9"/>
<circle cx="754.8" cy="180.7" r="9"/>
</g>
<circle cx="243.4" cy="85.8" r="9" fill="#ff6347"/>
<g fill="none" stroke-width="4">
<path d="M194 118.8 H293" stroke="#0000ff" stroke-dasharray="11.6 3.8 2.4 3.6" stroke-dashoffset="15.4"/>
<path d="M194 151.8 H293" stroke="#ff0000"/>
<path d="M194 184.8 H293" stroke="#008000" stroke-dasharray="10.8 8.7"/>
<path d="M194 218 H292" stroke="#ff00ff" stroke-dasharray="2.4 3.87"/>
</g>
<text transform="translate(358.14 93.70) scale(0.9671 1)" font-size="23.2">SN</text>
<text transform="translate(398.50 93.70) scale(1.1500 1)" font-size="23.2" letter-spacing="0.016">2008ax</text>
<text transform="translate(359.05 123.80) scale(1.0991 1)" font-size="23.2">2</text>
<text transform="translate(383.20 123.80) scale(0.8689 1)" font-size="23.2">R</text>
<circle cx="402.9" cy="125.1" r="4.3" fill="none" stroke="#000" stroke-width="1.3"/>
<circle cx="402.9" cy="125.1" r="1.1" fill="#000"/>
<text transform="translate(359.03 156.70) scale(1.1212 1)" font-size="23.2">30</text>
<text transform="translate(396.70 156.70) scale(0.8689 1)" font-size="23.2">R</text>
<circle cx="416.2" cy="158.0" r="4.3" fill="none" stroke="#000" stroke-width="1.3"/>
<circle cx="416.2" cy="158.0" r="1.1" fill="#000"/>
<text transform="translate(358.61 189.70) scale(1.1398 1)" font-size="23.2">50</text>
<text transform="translate(396.70 189.70) scale(0.8689 1)" font-size="23.2">R</text>
<circle cx="416.2" cy="191.0" r="4.3" fill="none" stroke="#000" stroke-width="1.3"/>
<circle cx="416.2" cy="191.0" r="1.1" fill="#000"/>
<text transform="translate(359.70 222.70) scale(1.1160 1)" font-size="23.2">100</text>
<text transform="translate(410.40 222.70) scale(0.8689 1)" font-size="23.2">R</text>
<circle cx="429.8" cy="224.0" r="4.3" fill="none" stroke="#000" stroke-width="1.3"/>
<circle cx="429.8" cy="224.0" r="1.1" fill="#000"/>
<text transform="translate(119.92 739.00) scale(1.1137 1)" font-size="31">0</text>
<text transform="translate(283.24 739.00) scale(1.2177 1)" font-size="31">5</text>
<text transform="translate(441.40 739.00) scale(0.8360 1)" font-size="31">1</text>
<text transform="translate(458.92 739.00) scale(1.1137 1)" font-size="31">0</text>
<text transform="translate(605.80 739.00) scale(0.8360 1)" font-size="31">1</text>
<text transform="translate(621.13 739.00) scale(1.2177 1)" font-size="31">5</text>
<text transform="translate(768.69 739.00) scale(1.2258 1)" font-size="31">2</text>
<text transform="translate(787.02 739.00) scale(1.1137 1)" font-size="31">0</text>
<text transform="translate(49.74 55.50) scale(1.0683 1)" font-size="31">4</text>
<text transform="translate(66.99 55.50) scale(1.2258 1)" font-size="31">2</text>
<text transform="translate(86.52 55.50) scale(0.8333 1)" font-size="31">.</text>
<text transform="translate(93.47 55.50) scale(1.2016 1)" font-size="31">5</text>
<text transform="translate(76.44 261.09) scale(1.0683 1)" font-size="31">4</text>
<text transform="translate(93.69 261.09) scale(1.2258 1)" font-size="31">2</text>
<text transform="translate(49.74 466.69) scale(1.0683 1)" font-size="31">4</text>
<text transform="translate(70.15 466.69) scale(0.8178 1)" font-size="31">1</text>
<text transform="translate(86.52 466.69) scale(0.8333 1)" font-size="31">.</text>
<text transform="translate(93.47 466.69) scale(1.2016 1)" font-size="31">5</text>
<text transform="translate(76.44 672.28) scale(1.0683 1)" font-size="31">4</text>
<text transform="translate(96.55 672.28) scale(0.8542 1)" font-size="31">1</text>
<text transform="translate(242.12 785.60) scale(1.1008 1)" font-size="31">Time</text>
<text transform="translate(328.87 785.60) scale(1.1500 1)" font-size="31" letter-spacing="1.095">since</text>
<text transform="translate(422.07 785.60) scale(1.1500 1)" font-size="31" letter-spacing="0.305">explosion</text>
<text transform="translate(592.65 785.60) scale(1.1500 1)" font-size="31" letter-spacing="0.602">days</text>
<path d="M588.6 762.0 H583.1 V790.6 H588.6" fill="none" stroke="#000" stroke-width="1.7"/>
<path d="M663.5 762.0 H668.9 V790.6 H663.5" fill="none" stroke="#000" stroke-width="1.7"/>
<g transform="translate(27 497.3) rotate(-90)">
<text transform="translate(-0.88 0.00) scale(0.9429 1)" font-size="31">Log</text>
<text transform="translate(63.32 0.00) scale(0.8375 1)" font-size="31">L</text>
<text transform="translate(79.56 9.20) scale(0.9545 1)" font-size="19" stroke="#000" stroke-width="0.6">Bol</text>
<path d="M129.5 -23.6 H124.0 V5.0 H129.5" fill="none" stroke="#000" stroke-width="1.7"/>
<text transform="translate(134.37 0.00) scale(1.1500 1)" font-size="31" letter-spacing="0.742">erg</text>
<text transform="translate(196.83 0.00) scale(1.0241 1)" font-size="31">s</text>
<text transform="translate(211.73 -8.00) scale(0.9168 1)" font-size="19">−</text>
<text transform="translate(221.01 -8.00) scale(1.4826 1)" font-size="19">1</text>
<path d="M240.0 -23.6 H245.5 V5.0 H240.0" fill="none" stroke="#000" stroke-width="1.7"/>
</g>
</svg></body></html>
